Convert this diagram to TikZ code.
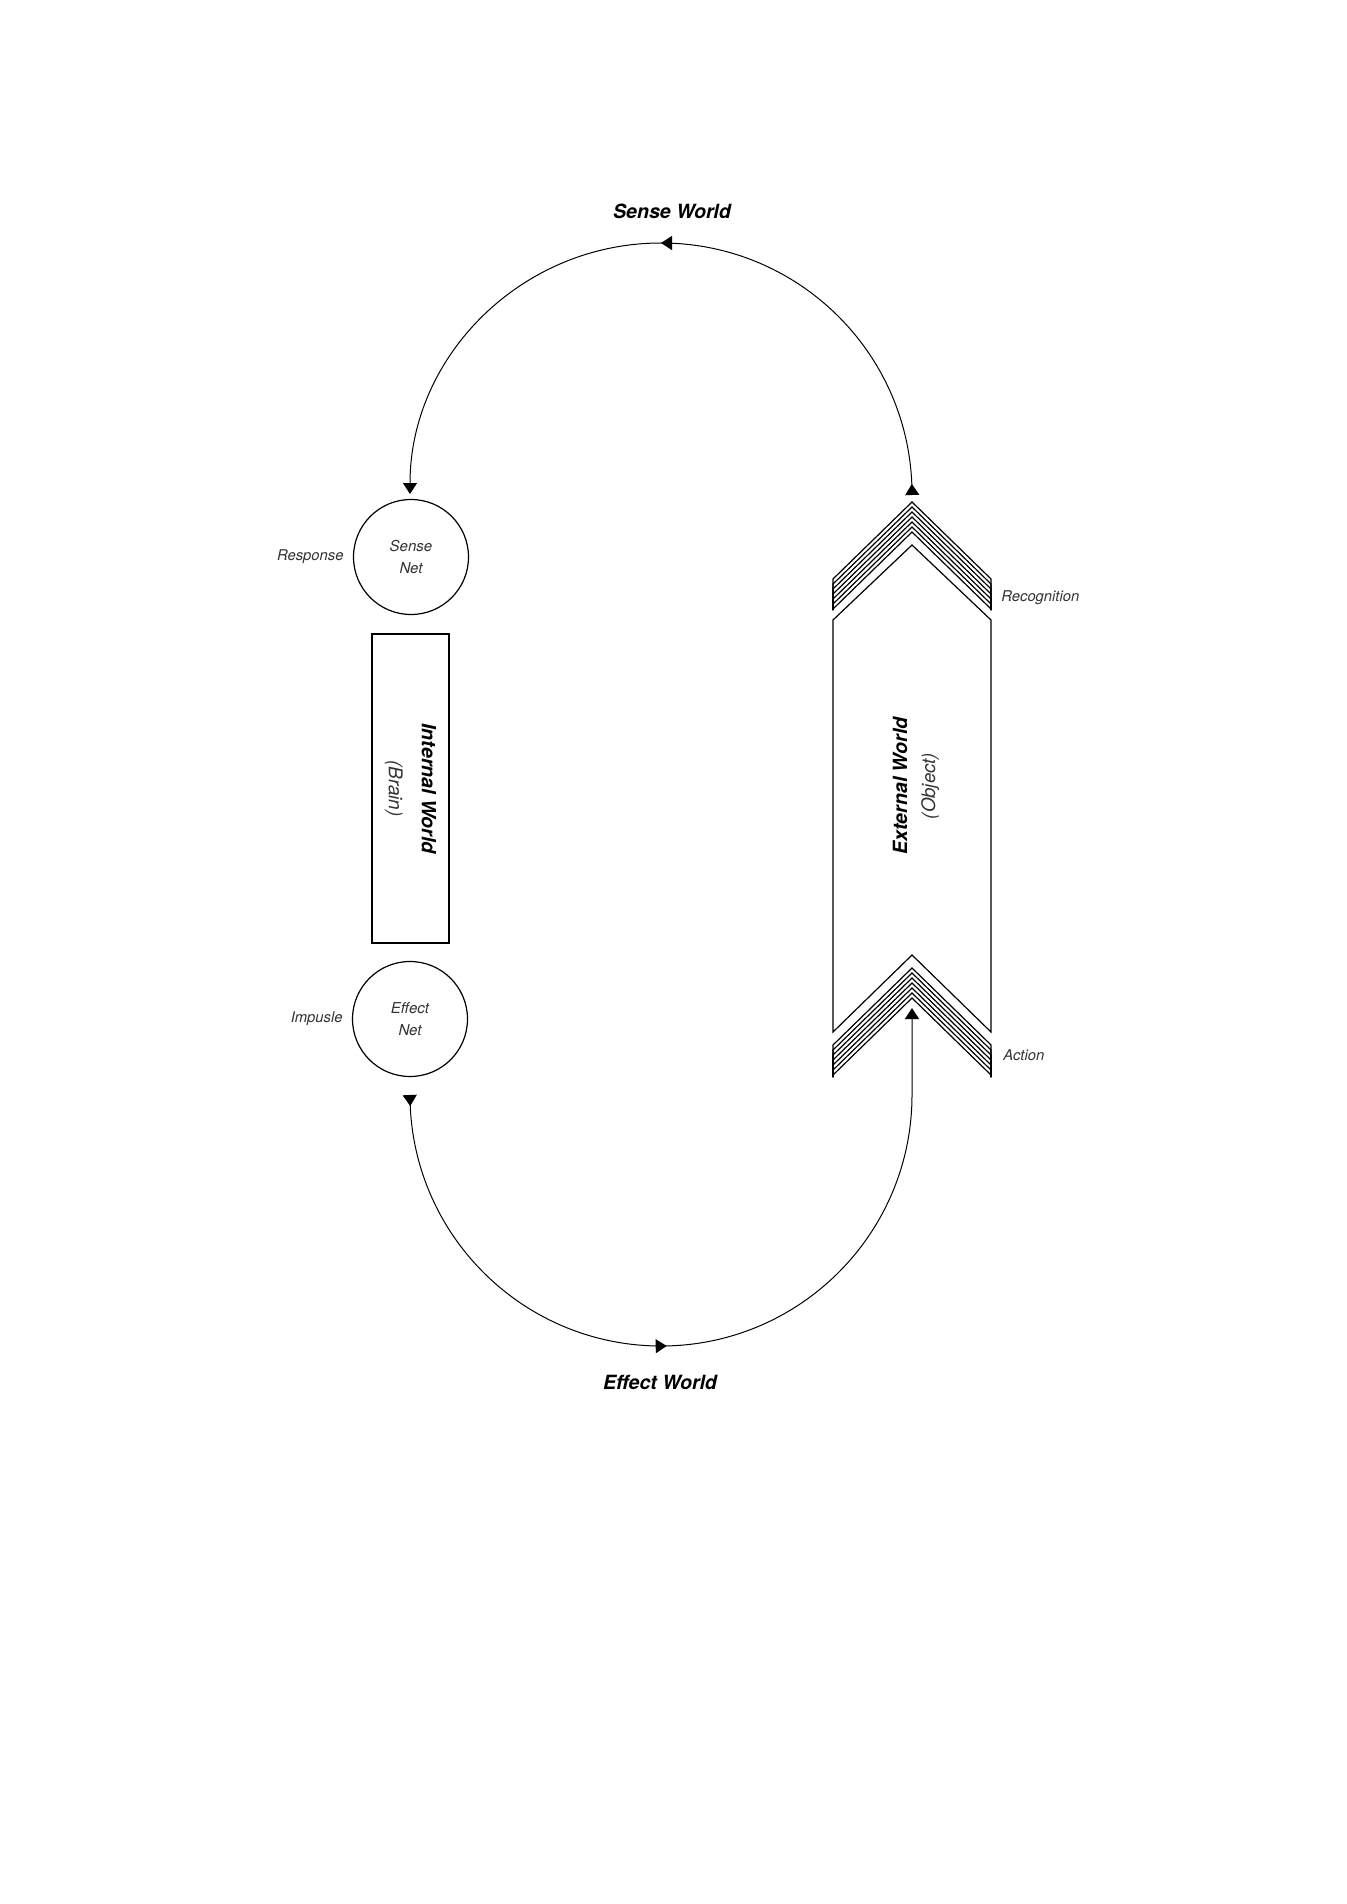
\documentclass[tikz,border=0pt]{standalone}
\usepackage{fontspec}
\setmainfont{TeX Gyre Heros}
\usetikzlibrary{positioning,arrows.meta,decorations.markings}

\def\flowtip{Triangle[width=7pt,length=5.5pt]}
\tikzset{
  net/.style={draw,circle,line width=0.6pt,minimum size=57.5pt,inner sep=0pt,
    align=center,font=\fontsize{7.5}{10.8}\selectfont\itshape,text=black!80},
  side/.style={inner sep=0pt,font=\fontsize{7.4}{9}\selectfont\itshape,text=black!80},
  world/.style={font=\fontsize{9.8}{12}\selectfont\bfseries\itshape},
  wall/.style={line width=0.6pt,line join=miter},
  flow/.style={line width=0.5pt},
}

\begin{document}
\begin{tikzpicture}[x=0.5pt,y=-0.5pt]
  \fill[white] (0,0) rectangle (1346,1904);
  \useasboundingbox (0,0) rectangle (1346,1904);

  % internal side
  \node[net] (snet) at (411,557) {Sense\\Net};
  \node[net] (enet) at (410,1019) {Effect\\Net};
  \node[draw,line width=0.6pt,rotate=-90,minimum width=154.5pt,minimum height=38.5pt,
    align=center,font=\fontsize{9.5}{16.5}\selectfont\itshape] (brain) at (410.5,788.5)
    {{\bfseries\fontsize{9.8}{12}\selectfont Internal World}\\{\color{black!80}(Brain)}};
  \node[side,left=4.5pt of snet] (resp) {Response};
  \node[side,left=4.5pt of enet] (imp) {Impusle};

  % external world (object)
  \foreach \a in {502,507,...,532}
    \draw[wall] (833,610) -- (833,\a+77) -- (912,\a) -- (991,\a+77) -- (991,610);
  \draw[wall] (833,1032) -- (833,620) -- (912,545) -- (991,620) -- (991,1032) -- (912,955) -- cycle;
  \foreach \a in {968,973,...,998}
    \draw[wall] (833,1077) -- (833,\a+77) -- (912,\a) -- (991,\a+77) -- (991,1077);
  \node[rotate=90,align=center,font=\fontsize{9.3}{14}\selectfont\itshape] (object) at (916,786)
    {{\bfseries\fontsize{9.8}{12}\selectfont External World}\\{\color{black!80}(Object)}};
  \node[side,anchor=west] (recog) at (1001,598) {Recognition};
  \node[side,anchor=west] (act) at (1003,1055) {Action};

  % circuit
  \coordinate (recogout) at (912,494);
  \coordinate (sensein) at (410,493);
  \coordinate (effectout) at (410,1095);
  \coordinate (actin) at (912,1008);
  \draw[flow,-{\flowtip},postaction={decorate,decoration={markings,
      mark=at position 5pt with {\arrow{\flowtip}},
      mark=at position 0.5 with {\arrow{\flowtip}}}}]
    (recogout) arc[start angle=0,end angle=-180,radius=251];
  \draw[flow,-{\flowtip},postaction={decorate,decoration={markings,
      mark=at position 5.5pt with {\arrow{\flowtip}},
      mark=at position 200pt with {\arrow{\flowtip}}}}]
    (effectout) arc[start angle=180,end angle=0,radius=251] -- (actin);

  \node[world] (sworld) at (672,211) {Sense World};
  \node[world] (eworld) at (660,1382) {Effect World};
\end{tikzpicture}
\end{document}
